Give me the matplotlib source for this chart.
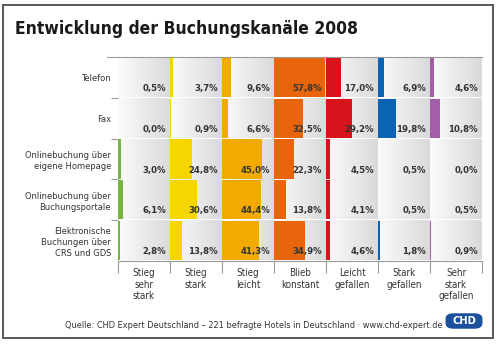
import numpy as np
import matplotlib
matplotlib.use("Agg")
import matplotlib.pyplot as plt
from matplotlib import font_manager
from matplotlib.colors import LinearSegmentedColormap
from matplotlib.patches import FancyBboxPatch, Rectangle

# look for a narrow face; fall back to Roboto, which runs fairly tight
narrow = [f for f in font_manager.fontManager.ttflist
          if "narrow" in f.name.lower() or "condensed" in f.name.lower()
          or "condensed" in str(f.stretch).lower()]
if narrow:
    FONT, STRETCH = narrow[0].name, narrow[0].stretch
else:
    FONT, STRETCH = "Roboto", "normal"
plt.rcParams["font.family"] = [FONT, "DejaVu Sans"]
plt.rcParams["font.stretch"] = STRETCH

channels = ["Telefon", "Fax", "Onlinebuchung über\neigene Homepage",
            "Onlinebuchung über\nBuchungsportale",
            "Elektronische\nBuchungen über\nCRS und GDS"]
changes = ["Stieg\nsehr\nstark", "Stieg\nstark", "Stieg\nleicht", "Blieb\nkonstant",
           "Leicht\ngefallen", "Stark\ngefallen", "Sehr\nstark\ngefallen"]
colors = ["#76b53f", "#f7d500", "#f2a900", "#e8650c", "#d7141c", "#0b64b3", "#a45ea9"]

# shares per channel (rows) and change category (columns), in percent
telefon = [0.5, 3.7, 9.6, 57.8, 17.0, 6.9, 4.6]
fax = [0.0, 0.9, 6.6, 32.5, 29.2, 19.8, 10.8]
homepage = [3.0, 24.8, 45.0, 22.3, 4.5, 0.5, 0.0]
portale = [6.1, 30.6, 44.4, 13.8, 4.1, 0.5, 0.5]
crs_gds = [2.8, 13.8, 41.3, 34.9, 4.6, 1.8, 0.9]
values = [telefon, fax, homepage, portale, crs_gds]

COL = 58.5  # width of one column in percent units
W, H = 498, 344


def fx(x):
    return x / W


def fy(y):
    return 1 - y / H


fig = plt.figure(figsize=(W / 100, H / 100), dpi=100)
fig.patch.set_facecolor("white")

# outer frame
fig.patches.append(Rectangle((fx(3), fy(338)), fx(490), 333 / H, transform=fig.transFigure,
                             fill=False, edgecolor="#4a4a4a", linewidth=1.3))

fig.text(fx(15), fy(29), "Entwicklung der Buchungskanäle 2008", fontsize=12.5,
         fontweight="bold", color="#1a1a1a", va="center", ha="left")

ax = fig.add_axes([fx(118), fy(261), fx(364), 204 / H])
nrows, ncols = len(channels), len(changes)

grad = LinearSegmentedColormap.from_list("cell", ["#fbfbfb", "#dadada"])
ramp = np.linspace(0, 1, 64).reshape(1, -1)
gap = 0.48
for r, row in enumerate(values):
    for j, v in enumerate(row):
        x0 = j * COL
        ax.imshow(ramp, cmap=grad, aspect="auto", interpolation="bilinear",
                  extent=[x0, x0 + COL, r + gap, r - gap], zorder=1)
        ax.barh(r, v, left=x0, height=2 * gap, color=colors[j], linewidth=0, zorder=2)
        ax.text(x0 + COL - 4.5, r + 0.27, f"{v:.1f}".replace(".", ",") + "%",
                ha="right", va="center", fontsize=6.8, fontweight="bold",
                color="#333333", zorder=3)

ax.set_xlim(0, ncols * COL)
ax.set_ylim(nrows - 0.5, -0.5)
ax.set_facecolor("white")

for s in ["left", "right", "top"]:
    ax.spines[s].set_visible(False)
ax.spines["bottom"].set_color("#9a9a9a")
ax.spines["bottom"].set_linewidth(0.8)

# separators below the columns, labels between them
ax.set_xticks(np.arange(ncols + 1) * COL)
ax.set_xticklabels([])
ax.tick_params(axis="x", which="major", length=8.5, width=0.8, color="#9a9a9a")
ax.set_xticks((np.arange(ncols) + 0.5) * COL, minor=True)
ax.set_xticklabels(changes, minor=True, fontsize=7, color="#333333", linespacing=1.2)
ax.tick_params(axis="x", which="minor", length=0, pad=5)

ax.set_yticks(np.arange(nrows - 1) + 0.5)
ax.set_yticklabels([])
ax.tick_params(axis="y", which="major", length=5, width=0.8, color="#9a9a9a")
ax.set_yticks(np.arange(nrows), minor=True)
ax.set_yticklabels(channels, minor=True, fontsize=6.7, color="#333333", linespacing=1.25)
ax.tick_params(axis="y", which="minor", length=0, pad=5)

# rule along the top of the table
ax.plot([-11 / 364, 1], [1, 1], transform=ax.transAxes, color="#9a9a9a",
        linewidth=0.8, clip_on=False)

fig.text(fx(442), fy(325), "Quelle: CHD Expert Deutschland – 221 befragte Hotels in "
         "Deutschland · www.chd-expert.de", fontsize=6.6, color="#333333",
         ha="right", va="center")

# logo badge
fig.patches.append(FancyBboxPatch((fx(448), fy(327)), fx(32), 12 / H,
                                  boxstyle="round,pad=0.005,rounding_size=0.016",
                                  transform=fig.transFigure, facecolor="#1c4f9c",
                                  edgecolor="none"))
fig.text(fx(464), fy(320.5), "CHD", fontsize=8, fontweight="bold", color="white",
         ha="center", va="center")

fig.savefig("out.png", dpi=100)
